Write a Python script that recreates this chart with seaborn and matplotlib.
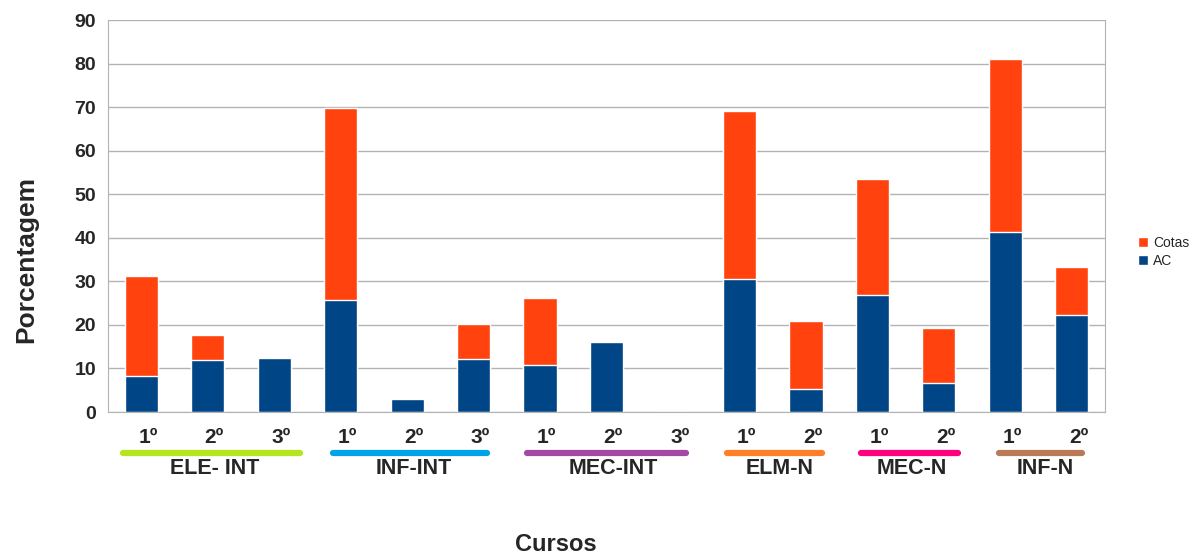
import pandas as pd
import numpy as np
import matplotlib.pyplot as plt
import seaborn as sns

# Data
grupos = ['ELE- INT', 'INF-INT', 'MEC-INT', 'ELM-N', 'MEC-N', 'INF-N']
anos = [['1º', '2º', '3º'], ['1º', '2º', '3º'], ['1º', '2º', '3º'],
        ['1º', '2º'], ['1º', '2º'], ['1º', '2º']]
cores_grupo = ['#b5e61d', '#00a2e8', '#a349a4', '#ff7f27', '#ff0080', '#b97a57']
ac = [8.3, 11.9, 12.5, 25.7, 2.9, 12.1, 10.9, 16.0, 0.0, 30.5, 5.2, 26.8, 6.6, 41.4, 22.2]
cotas = [22.9, 5.8, 0.0, 44.1, 0.0, 8.0, 15.2, 0.0, 0.0, 38.7, 15.8, 26.8, 12.8, 39.7, 11.0]

cats = [f'{g} {a}' for g, lst in zip(grupos, anos) for a in lst]
df = pd.DataFrame({'curso': cats, 'AC': ac, 'Cotas': cotas})
df['total'] = df['AC'] + df['Cotas']

sns.set_style('white')
plt.rcParams['font.family'] = ['Liberation Sans', 'DejaVu Sans']

fig = plt.figure(figsize=(11.95, 5.57), dpi=100)
ax = fig.add_axes([0.0904, 0.2603, 0.8343, 0.7037])

sns.barplot(data=df, x='curso', y='total', color='#ff420e', width=0.5,
            saturation=1, ax=ax, label='Cotas')
sns.barplot(data=df, x='curso', y='AC', color='#004586', width=0.5,
            saturation=1, ax=ax, label='AC')

n = len(cats)
ax.set_xlim(-0.5, n - 0.5)
ax.set_ylim(0, 90)
ax.set_yticks(range(0, 91, 10))
ax.yaxis.grid(True, color='#b3b3b3', lw=1)
ax.set_axisbelow(True)
for s in ax.spines.values():
    s.set_color('#b3b3b3')
ax.spines['top'].set_visible(False)

ax.set_xticks(np.arange(-0.5, n, 1))
ax.set_xticklabels([])
ax.tick_params(axis='x', length=5, color='#b3b3b3', width=1)
ax.tick_params(axis='y', length=5, color='#b3b3b3', width=1, labelsize=14)
for t in ax.get_yticklabels():
    t.set_fontweight('bold')
ax.set_xlabel('')
ax.set_ylabel('Porcentagem', fontsize=19, fontweight='bold')
ax.yaxis.set_label_coords(-0.07, 0.39)

# year labels and group lines (line extents around the first/last bar)
ext = [(-0.27, 0.39), (-0.12, 0.2), (-0.2, 0.2), (-0.18, 0.24), (-0.17, 0.29), (-0.1, 0.15)]
trans = ax.get_xaxis_transform()
i = 0
for g, lst, c, (e0, e1) in zip(grupos, anos, cores_grupo, ext):
    start = i
    for a in lst:
        ax.text(i + 0.1, -0.065, a, transform=trans, ha='center', va='center',
                fontsize=15, fontweight='bold')
        i += 1
    end = i - 1
    ax.plot([start + e0, end + e1], [-0.105, -0.105], transform=trans,
            color=c, lw=4.5, solid_capstyle='round', clip_on=False)
    ax.text((start + end) / 2 + 0.1, -0.145, g, transform=trans, ha='center',
            va='center', fontsize=15.5, fontweight='bold')

fig.text(0.465, 0.022, 'Cursos', ha='center', va='center', fontsize=17,
         fontweight='bold')

h, l = ax.get_legend_handles_labels()
if ax.get_legend() is not None:
    ax.get_legend().remove()
fig.legend(h, l, loc='center left', bbox_to_anchor=(0.942, 0.548), frameon=False,
           fontsize=10, handlelength=0.7, handleheight=0.7, handletextpad=0.4,
           labelspacing=0.3)

fig.savefig('out.png', dpi=100)
